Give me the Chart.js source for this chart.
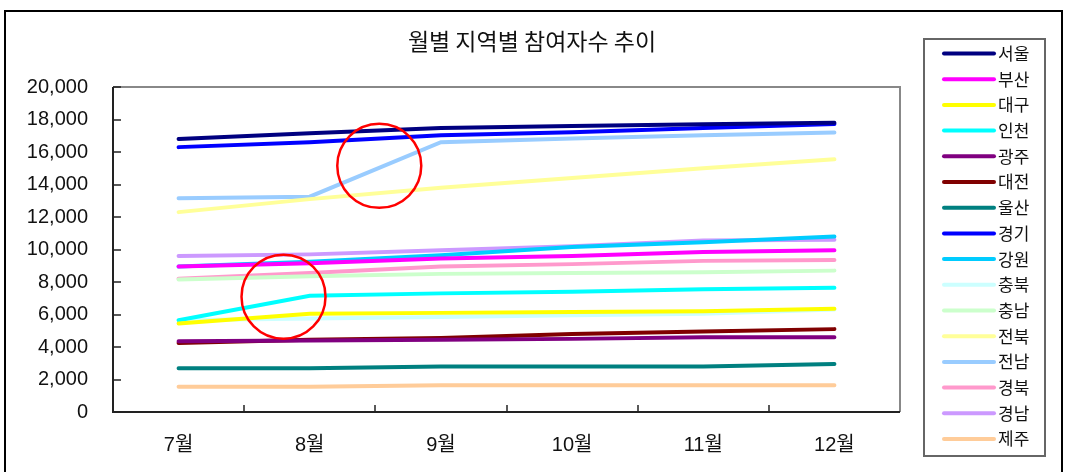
<!DOCTYPE html>
<html lang="ko">
<head>
<meta charset="utf-8">
<script src="https://cdn.jsdelivr.net/npm/chart.js@4/dist/chart.umd.min.js"></script>
<style>
  html, body { margin: 0; padding: 0; background: #fff; }
  #wrap { width: 1065px; height: 472px; }
</style>
</head>
<body>
<div id="wrap"><canvas id="trendChart" width="1065" height="472"></canvas></div>
<script>
const TITLE = '월별 지역별 참여자수 추이';
const months = ['7월', '8월', '9월', '10월', '11월', '12월'];
const yTicks = [0, 2000, 4000, 6000, 8000, 10000, 12000, 14000, 16000, 18000, 20000];

const regions = ['서울', '부산', '대구', '인천', '광주', '대전', '울산', '경기',
                 '강원', '충북', '충남', '전북', '전남', '경북', '경남', '제주'];
const colors  = ['#000080', '#ff00ff', '#ffff00', '#00ffff', '#800080', '#800000', '#008080', '#0000ff',
                 '#00ccff', '#ccffff', '#ccffcc', '#ffff99', '#99ccff', '#ff99cc', '#cc99ff', '#ffcc99'];

const seoul     = [16800, 17150, 17480, 17600, 17710, 17800];
const busan     = [8950, 9150, 9450, 9600, 9850, 9950];
const daegu     = [5450, 6050, 6100, 6150, 6200, 6350];
const incheon   = [5650, 7150, 7300, 7400, 7550, 7650];
const gwangju   = [4350, 4400, 4450, 4500, 4600, 4600];
const daejeon   = [4250, 4450, 4550, 4800, 4950, 5100];
const ulsan     = [2700, 2700, 2800, 2800, 2800, 2950];
const gyeonggi  = [16300, 16600, 17030, 17220, 17480, 17720];
const gangwon   = [8950, 9250, 9650, 10150, 10450, 10800];
const chungbuk  = [5650, 5750, 5850, 5950, 6050, 6300];
const chungnam  = [8150, 8350, 8500, 8550, 8600, 8700];
const jeonbuk   = [12300, 13100, 13800, 14400, 15000, 15550];
const jeonnam   = [13150, 13250, 16600, 16830, 17030, 17200];
const gyeongbuk = [8200, 8550, 8950, 9100, 9300, 9350];
const gyeongnam = [9600, 9700, 9950, 10200, 10550, 10600];
const jeju      = [1550, 1550, 1650, 1650, 1650, 1650];

const series = [seoul, busan, daegu, incheon, gwangju, daejeon, ulsan, gyeonggi,
                gangwon, chungbuk, chungnam, jeonbuk, jeonnam, gyeongbuk, gyeongnam, jeju];

// annotation circles: [category position, value]
const marks = [[1.53, 15150], [0.8, 7100]];

const FONT = '"Liberation Sans", "Noto Sans CJK KR", sans-serif';

const decor = {
  id: 'decor',
  beforeDraw(chart) {
    const c = chart.ctx;
    c.save();
    c.fillStyle = '#fff';
    c.fillRect(0, 0, chart.width, chart.height);
    c.strokeStyle = '#000';
    c.lineWidth = 2;
    c.strokeRect(5, 11, 1057, 480);
    c.fillStyle = '#111';
    c.font = '23px "Noto Sans CJK KR", sans-serif';
    c.textAlign = 'center';
    c.textBaseline = 'middle';
    c.fillText(TITLE, 532, 41);
    c.restore();
  },
  afterDatasetsDraw(chart) {
    const c = chart.ctx;
    const { left, right, top, bottom } = chart.chartArea;
    const x = chart.scales.x, y = chart.scales.y;
    c.save();
    // plot frame
    c.lineWidth = 2;
    c.strokeStyle = '#888';
    c.beginPath();
    c.moveTo(left, top); c.lineTo(right, top); c.lineTo(right, bottom);
    c.stroke();
    c.strokeStyle = '#222';
    c.beginPath();
    c.moveTo(left, top); c.lineTo(left, bottom); c.lineTo(right, bottom);
    c.stroke();
    // inward tick marks
    c.lineWidth = 1.5;
    yTicks.forEach(v => {
      const py = Math.round(y.getPixelForValue(v));
      c.beginPath(); c.moveTo(left, py); c.lineTo(left + 8, py); c.stroke();
    });
    for (let i = 1; i < months.length; i++) {
      const px = Math.round(x.getPixelForValue(i - 0.5));
      c.beginPath(); c.moveTo(px, bottom); c.lineTo(px, bottom - 7); c.stroke();
    }
    // red circles
    c.strokeStyle = '#ff0000';
    c.lineWidth = 2.5;
    marks.forEach(([i, v]) => {
      c.beginPath();
      c.arc(x.getPixelForValue(i), y.getPixelForValue(v), 42, 0, Math.PI * 2);
      c.stroke();
    });
    c.restore();
  },
  afterDraw(chart) {
    const c = chart.ctx;
    c.save();
    c.strokeStyle = '#666';
    c.lineWidth = 2;
    c.strokeRect(924, 39, 121, 417);
    c.font = '17px "Noto Sans CJK KR", sans-serif';
    c.textBaseline = 'middle';
    c.lineCap = 'round';
    c.lineWidth = 4;
    chart.data.datasets.forEach((ds, i) => {
      const ry = 53.5 + i * 25.7;
      c.strokeStyle = ds.borderColor;
      c.beginPath(); c.moveTo(944, ry); c.lineTo(994, ry); c.stroke();
      c.fillStyle = '#111';
      c.fillText(ds.label, 998, ry);
    });
    c.restore();
  }
};

new Chart(document.getElementById('trendChart'), {
  type: 'line',
  data: {
    labels: months,
    datasets: regions.map((name, i) => ({
      label: name,
      data: series[i],
      borderColor: colors[i],
      backgroundColor: colors[i],
      borderWidth: 4,
      borderCapStyle: 'round',
      pointRadius: 0,
      tension: 0,
      fill: false,
    })),
  },
  options: {
    responsive: false,
    devicePixelRatio: 1,
    animation: false,
    layout: { padding: { top: 87, right: 165, left: 0, bottom: 0 } },
    plugins: { legend: { display: false }, tooltip: { enabled: false }, title: { display: false } },
    scales: {
      x: {
        offset: true,
        grid: { display: false },
        border: { display: false },
        ticks: { color: '#111', font: { family: FONT, size: 20 }, padding: 13, maxRotation: 0 },
        afterFit: s => { s.height = 60; },
      },
      y: {
        min: 0, max: 20000,
        grid: { display: false },
        border: { display: false },
        ticks: {
          stepSize: 2000, color: '#111', padding: 17,
          font: { family: FONT, size: 20 },
          callback: v => v.toLocaleString('en-US'),
        },
        afterFit: s => { s.width = 113; },
      },
    },
  },
  plugins: [decor],
});
</script>
</body>
</html>
